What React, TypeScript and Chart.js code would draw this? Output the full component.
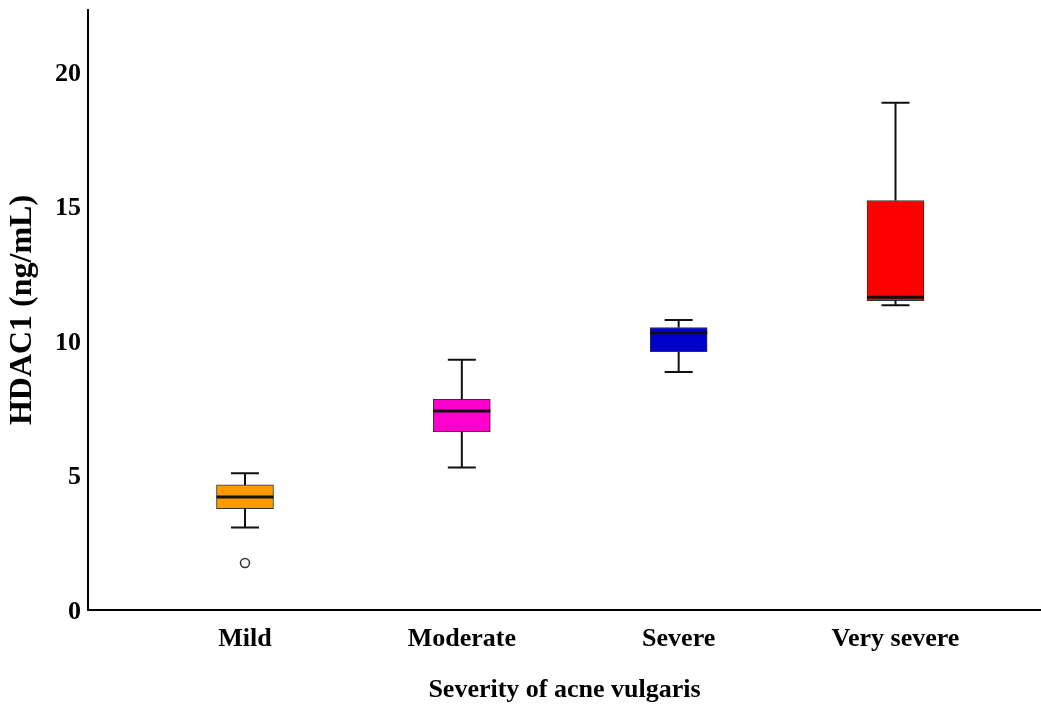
import React, { useEffect, useRef } from "react";
import { Chart, registerables } from "chart.js";

Chart.register(...registerables);

const categories = ["Mild", "Moderate", "Severe", "Very severe"];
const positions = [1, 2, 3, 4];
const whiskerLow = [3.07, 5.3, 8.85, 11.33];
const q1 = [3.77, 6.63, 9.6, 11.5];
const median = [4.2, 7.4, 10.3, 11.62];
const q3 = [4.65, 7.83, 10.5, 15.22];
const whiskerHigh = [5.08, 9.3, 10.78, 18.85];
const outlierPositions = [1];
const outlierValues = [1.75];
const boxColors = ["#FF9900", "#FF00CC", "#0000CC", "#FF0000"];
const yTicks = [0, 5, 10, 15, 20];

const FONT_FAMILY = "'Liberation Serif', 'Times New Roman', serif";

const boxPlotPlugin = {
  id: "boxPlotExtras",
  afterDatasetsDraw(chart: any) {
    const x = chart.scales.x;
    const y = chart.scales.y;
    const ctx = chart.ctx;
    ctx.save();
    const boxHalf = 28.5;
    const capHalf = 14;
    positions.forEach((p, i) => {
      const cx = x.getPixelForValue(p);
      const yLow = y.getPixelForValue(whiskerLow[i]);
      const yQ1 = y.getPixelForValue(q1[i]);
      const yQ3 = y.getPixelForValue(q3[i]);
      const yHigh = y.getPixelForValue(whiskerHigh[i]);
      const yMed = y.getPixelForValue(median[i]);
      ctx.strokeStyle = "#111";
      ctx.lineWidth = 2;
      ctx.beginPath();
      ctx.moveTo(cx, yLow);
      ctx.lineTo(cx, yQ1);
      ctx.moveTo(cx, yQ3);
      ctx.lineTo(cx, yHigh);
      ctx.moveTo(cx - capHalf, yLow);
      ctx.lineTo(cx + capHalf, yLow);
      ctx.moveTo(cx - capHalf, yHigh);
      ctx.lineTo(cx + capHalf, yHigh);
      ctx.stroke();
      ctx.lineWidth = 3;
      ctx.beginPath();
      ctx.moveTo(cx - boxHalf, yMed);
      ctx.lineTo(cx + boxHalf, yMed);
      ctx.stroke();
    });
    ctx.restore();
  },
};

export default function App() {
  const canvasRef = useRef<HTMLCanvasElement | null>(null);

  useEffect(() => {
    document.body.style.margin = "0";
    const canvas = canvasRef.current;
    if (!canvas) return;
    const font = { family: FONT_FAMILY, size: 26, weight: "bold" as const };
    const yTitleFont = { family: FONT_FAMILY, size: 32, weight: "bold" as const };
    const chart = new Chart(canvas, {
      type: "bar",
      data: {
        datasets: [
          {
            type: "bar",
            data: positions.map((p, i) => ({ x: p, y: [q1[i], q3[i]] })) as any,
            backgroundColor: boxColors,
            borderColor: "#333",
            borderWidth: 1,
            borderSkipped: false,
            barThickness: 57,
          },
          {
            type: "scatter",
            data: outlierPositions.map((p, i) => ({ x: p, y: outlierValues[i] })),
            pointStyle: "circle",
            pointRadius: 4.5,
            pointBackgroundColor: "#fff",
            pointBorderColor: "#333",
            pointBorderWidth: 1.5,
          } as any,
        ],
      },
      options: {
        animation: false,
        responsive: false,
        maintainAspectRatio: false,
        devicePixelRatio: 1,
        layout: { autoPadding: false, padding: { top: 10, right: 0, bottom: 0, left: 0 } },
        plugins: { legend: { display: false }, tooltip: { enabled: false } },
        scales: {
          x: {
            type: "linear",
            offset: false,
            min: 0.276,
            max: 4.671,
            grid: { display: false, drawTicks: false },
            border: { display: true, color: "#000", width: 2 },
            afterBuildTicks: (s: any) => {
              s.ticks = positions.map((v) => ({ value: v }));
            },
            afterFit: (s: any) => {
              s.height = 96;
              s.paddingLeft = 0;
              s.paddingRight = 0;
            },
            ticks: {
              color: "#000",
              font,
              padding: 14,
              maxRotation: 0,
              autoSkip: false,
              callback: (v: any) => {
                const idx = positions.indexOf(Number(v));
                return idx >= 0 ? categories[idx] : "";
              },
            },
            title: {
              display: true,
              text: "Severity of acne vulgaris",
              color: "#000",
              font,
              padding: { top: 0, bottom: 0 },
            },
          },
          y: {
            type: "linear",
            min: 0,
            max: 22.3,
            grid: { display: false, drawTicks: false },
            border: { display: true, color: "#000", width: 2 },
            afterBuildTicks: (s: any) => {
              s.ticks = yTicks.map((v) => ({ value: v }));
            },
            afterFit: (s: any) => {
              s.width = 88;
              s.paddingTop = 0;
              s.paddingBottom = 0;
            },
            ticks: { color: "#000", font, padding: 7, labelOffset: 2 },
            title: {
              display: true,
              text: "HDAC1 (ng/mL)",
              color: "#000",
              font: yTitleFont,
              padding: { top: 4, bottom: 0 },
            },
          },
        },
      },
      plugins: [boxPlotPlugin],
    });
    return () => chart.destroy();
  }, []);

  return (
    <div style={{ width: 1041, height: 706, position: "relative" }}>
      <canvas ref={canvasRef} width={1041} height={706} />
    </div>
  );
}
